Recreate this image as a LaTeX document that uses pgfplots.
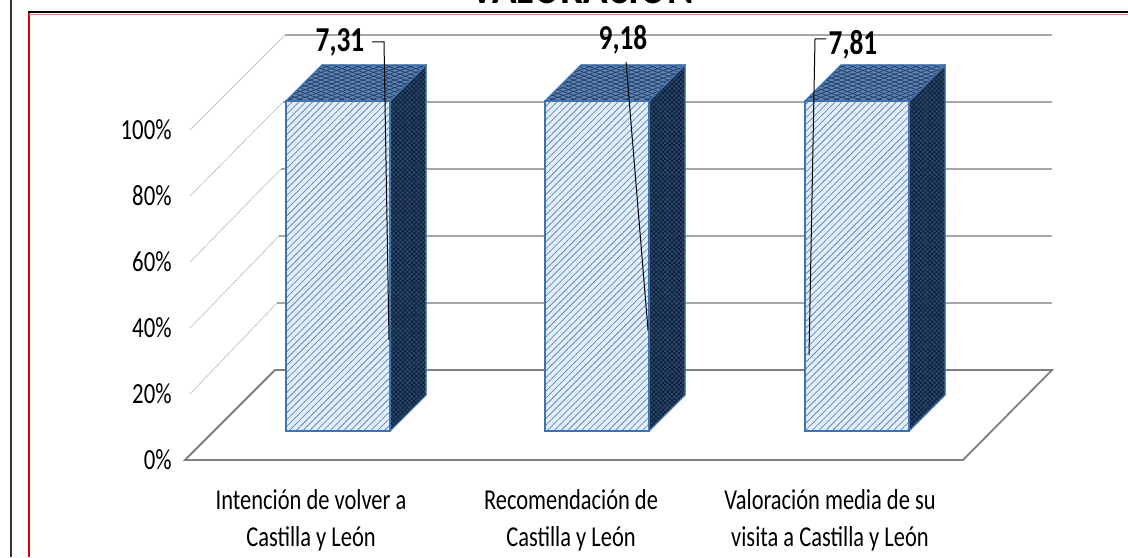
\documentclass[border=0pt]{standalone}
\usepackage{pgfplots}
\pgfplotsset{compat=1.18}
\usetikzlibrary{patterns.meta}
\usepackage{fontspec}
\setmainfont[FakeStretch=0.78]{Carlito}
\definecolor{gridc}{HTML}{A6A6A6}
\definecolor{diagc}{HTML}{C8C8C8}
\definecolor{floorc}{HTML}{7F7F7F}
\definecolor{frontbg}{HTML}{E4EEF8}
\definecolor{fronthatch}{HTML}{5A8AC2}
\definecolor{frontedge}{HTML}{3F72B0}
\definecolor{topbg}{HTML}{5F84B2}
\definecolor{tophatch}{HTML}{1C3A62}
\definecolor{sidebg}{HTML}{2A476C}
\definecolor{sidehatch}{HTML}{0E1D33}
\begin{document}
\begin{tikzpicture}
\useasboundingbox (0,0) rectangle (564pt,278.5pt);
\clip (0,0) rectangle (564pt,278.5pt);
\begin{axis}[
  at={(0,0)}, anchor=south west,
  scale only axis, width=564pt, height=278.5pt,
  xmin=0, xmax=1128, ymin=-29.394, ymax=139.394,
  clip=false,
  axis line style={draw=none},
  major tick length=0pt,
  ytick={0,20,40,60,80,100},
  yticklabel={\pgfmathprintnumber{\tick}\%},
  /pgf/number format/assume math mode=true,
  yticklabel style={anchor=east, inner sep=0pt, xshift=86pt, font=\fontsize{14.6}{16}\selectfont},
  xtick={311,571,830},
  xticklabels={Intención de volver a\\Castilla y León, Recomendación de\\Castilla y León, Valoración media de su\\visita a Castilla y León},
  xticklabel style={anchor=north, inner sep=0pt, yshift=34pt, align=center, font=\fontsize{14.4}{18.3}\selectfont},
]
% back wall gridlines
\addplot[gridc, line width=0.6pt] coordinates {(277,47.57) (1052,47.57)};
\addplot[gridc, line width=0.6pt] coordinates {(279,67.87) (1052,67.87)};
\addplot[gridc, line width=0.6pt] coordinates {(281,88.17) (1052,88.17)};
\addplot[gridc, line width=0.6pt] coordinates {(283,108.47) (1052,108.47)};
\addplot[gridc, line width=0.6pt] coordinates {(285,128.77) (1052,128.77)};
% left wall diagonals
\addplot[diagc, line width=0.4pt] coordinates {(190,20) (277,47.57)};
\addplot[diagc, line width=0.4pt] coordinates {(190,40) (279,67.87)};
\addplot[diagc, line width=0.4pt] coordinates {(190,60) (281,88.17)};
\addplot[diagc, line width=0.4pt] coordinates {(190,80) (283,108.47)};
\addplot[diagc, line width=0.4pt] coordinates {(190,100) (285,128.77)};
% floor
\addplot[floorc, line width=0.9pt] coordinates {(185,0) (963,0) (1052,27.27) (275,27.27)} -- cycle;
% bar 1 (100%)
\addplot[draw=frontedge, line width=0.4pt, fill=sidebg, postaction={pattern={Lines[angle=45,distance=1.6pt,line width=0.35pt]}, pattern color=sidehatch}, postaction={pattern={Lines[angle=-45,distance=1.6pt,line width=0.35pt]}, pattern color=sidehatch}] coordinates {(390,8.79) (426,19.70) (426,119.70) (390,108.79)} -- cycle;
\addplot[draw=frontedge, line width=0.4pt, fill=topbg, postaction={pattern={Lines[angle=20,distance=1.8pt,line width=0.35pt]}, pattern color=tophatch}, postaction={pattern={Lines[angle=-20,distance=1.8pt,line width=0.35pt]}, pattern color=tophatch}] coordinates {(286,108.79) (390,108.79) (426,119.70) (322,119.70)} -- cycle;
\addplot[draw=frontedge, line width=0.6pt, fill=frontbg, postaction={pattern={Lines[angle=45,distance=2.4pt,line width=0.4pt]}, pattern color=fronthatch}] coordinates {(286,8.79) (390,8.79) (390,108.79) (286,108.79)} -- cycle;
% bar 2 (100%)
\addplot[draw=frontedge, line width=0.4pt, fill=sidebg, postaction={pattern={Lines[angle=45,distance=1.6pt,line width=0.35pt]}, pattern color=sidehatch}, postaction={pattern={Lines[angle=-45,distance=1.6pt,line width=0.35pt]}, pattern color=sidehatch}] coordinates {(649,8.79) (685,19.70) (685,119.70) (649,108.79)} -- cycle;
\addplot[draw=frontedge, line width=0.4pt, fill=topbg, postaction={pattern={Lines[angle=20,distance=1.8pt,line width=0.35pt]}, pattern color=tophatch}, postaction={pattern={Lines[angle=-20,distance=1.8pt,line width=0.35pt]}, pattern color=tophatch}] coordinates {(545,108.79) (649,108.79) (685,119.70) (581,119.70)} -- cycle;
\addplot[draw=frontedge, line width=0.6pt, fill=frontbg, postaction={pattern={Lines[angle=45,distance=2.4pt,line width=0.4pt]}, pattern color=fronthatch}] coordinates {(545,8.79) (649,8.79) (649,108.79) (545,108.79)} -- cycle;
% bar 3 (100%)
\addplot[draw=frontedge, line width=0.4pt, fill=sidebg, postaction={pattern={Lines[angle=45,distance=1.6pt,line width=0.35pt]}, pattern color=sidehatch}, postaction={pattern={Lines[angle=-45,distance=1.6pt,line width=0.35pt]}, pattern color=sidehatch}] coordinates {(909,8.79) (945,19.70) (945,119.70) (909,108.79)} -- cycle;
\addplot[draw=frontedge, line width=0.4pt, fill=topbg, postaction={pattern={Lines[angle=20,distance=1.8pt,line width=0.35pt]}, pattern color=tophatch}, postaction={pattern={Lines[angle=-20,distance=1.8pt,line width=0.35pt]}, pattern color=tophatch}] coordinates {(805,108.79) (909,108.79) (945,119.70) (841,119.70)} -- cycle;
\addplot[draw=frontedge, line width=0.6pt, fill=frontbg, postaction={pattern={Lines[angle=45,distance=2.4pt,line width=0.4pt]}, pattern color=fronthatch}] coordinates {(805,8.79) (909,8.79) (909,108.79) (805,108.79)} -- cycle;
% leader lines
\addplot[black, line width=0.5pt] coordinates {(372,126.67) (384,126.67) (389,36.4)};
\addplot[black, line width=0.5pt] coordinates {(626,120.6) (648,39.4)};
\addplot[black, line width=0.5pt] coordinates {(826,127.6) (815,127.6) (809,31.8)};
% data labels
\node[font=\bfseries\fontsize{17.5}{20}\selectfont, inner sep=0pt] at (axis cs:340,126.4) {7,31};
\node[font=\bfseries\fontsize{17.5}{20}\selectfont, inner sep=0pt] at (axis cs:623,127.3) {9,18};
\node[font=\bfseries\fontsize{17.5}{20}\selectfont, inner sep=0pt] at (axis cs:853,125.8) {7,81};
% title (cropped by the frame's edge, as in the reference)
\node[font=\bfseries\fontsize{26}{30}\selectfont, anchor=base, inner sep=0pt] at (axis cs:582,138.4) {VALORACIÓN};
% frame
\draw[black!80, line width=0.9pt] (axis cs:11,-29.4) -- (axis cs:11,139.4);
\draw[red!85!black, line width=1.4pt] (axis cs:29,-29.4) -- (axis cs:29,135.6);
\draw[black, line width=1.1pt] (axis cs:28,135.76) -- (axis cs:1128,135.76);
\draw[red!55, line width=0.5pt] (axis cs:29,135.0) -- (axis cs:1128,135.0);
\end{axis}
\end{tikzpicture}
\end{document}
